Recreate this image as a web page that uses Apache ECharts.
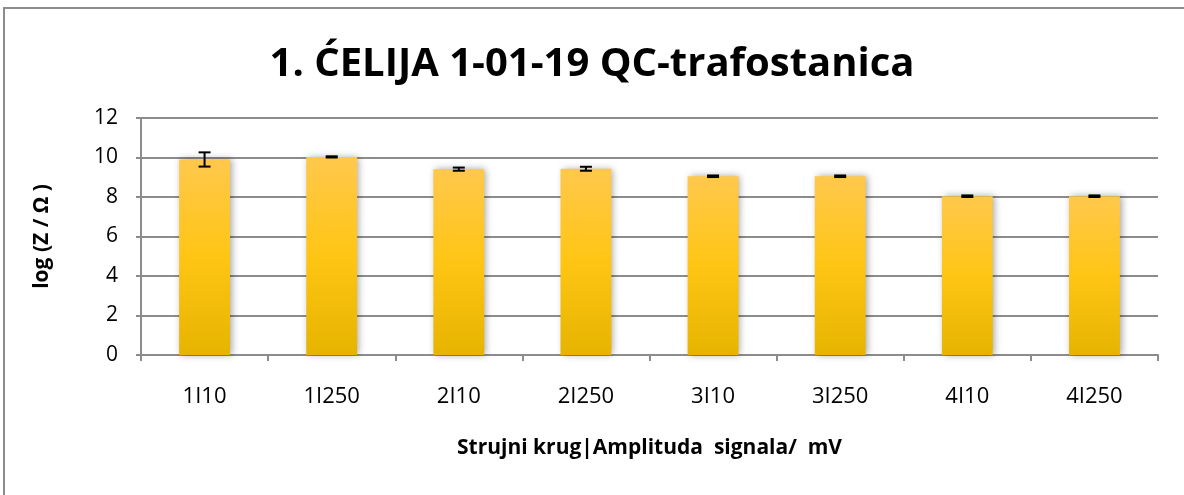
<!DOCTYPE html>
<html>
<head>
<meta charset="utf-8">
<style>
  html, body { margin: 0; padding: 0; background: #ffffff; }
  #chart { width: 1184px; height: 495px; }
</style>
<script src="https://cdn.jsdelivr.net/npm/echarts@6/dist/echarts.min.js"></script>
</head>
<body>
<div id="chart"></div>
<script>
// Measurement points: current circuit | signal amplitude (mV)
const categories = ['1I10', '1I250', '2I10', '2I250', '3I10', '3I250', '4I10', '4I250'];
// Mean log(Z / Ω) per point
const logZ = [9.9, 10.03, 9.41, 9.43, 9.05, 9.05, 8.04, 8.04];
// Error (± half-range) per point
const logZErr = [0.36, 0.03, 0.08, 0.1, 0.04, 0.04, 0.04, 0.04];
const yTicks = [0, 2, 4, 6, 8, 10, 12];

const titleText = '1. ĆELIJA 1-01-19 QC-trafostanica';
const yName = 'log (Z / Ω )';
const xName = 'Strujni krug|Amplituda  signala/  mV';

const chart = echarts.init(document.getElementById('chart'));
const FONT = 'Open Sans';
const gridColor = '#8c8c8c';
const plotLeft = 141, plotRight = 26;

const errData = logZ.map((v, i) => [i, v - logZErr[i], v + logZErr[i]]);

chart.setOption({
  backgroundColor: '#ffffff',
  animation: false,
  title: {
    text: titleText,
    left: 'center',
    top: 40,
    textStyle: { fontFamily: FONT, fontWeight: 'bold', fontSize: 40, color: '#000' }
  },
  graphic: [{
    type: 'rect',
    shape: { x: 4, y: 8, width: 1300, height: 600 },
    style: { fill: 'none', stroke: '#8c8c8c', lineWidth: 2 },
    silent: true,
    z: 0
  }, {
    // x-axis title, centred under the plot area
    type: 'text',
    x: plotLeft + (1184 - plotLeft - plotRight) / 2,
    y: 448,
    style: {
      text: xName, fontFamily: FONT, fontWeight: 'bold', fontSize: 21, fill: '#000',
      align: 'center', verticalAlign: 'middle'
    }
  }],
  grid: { left: plotLeft, right: plotRight, top: 118, bottom: 140 },
  xAxis: {
    type: 'category',
    data: categories,
    axisLine: { lineStyle: { color: gridColor, width: 2 } },
    axisTick: { show: true, length: 6, lineStyle: { color: gridColor, width: 2 } },
    axisLabel: { fontFamily: FONT, fontSize: 22, color: '#000', margin: 31 }
  },
  yAxis: {
    type: 'value',
    min: yTicks[0],
    max: yTicks[yTicks.length - 1],
    interval: 2,
    name: yName,
    nameLocation: 'middle',
    nameGap: 88,
    nameRotate: 90,
    nameTextStyle: { fontFamily: FONT, fontWeight: 'bold', fontSize: 21, color: '#000' },
    axisLine: { show: true, lineStyle: { color: gridColor, width: 2 } },
    axisTick: { show: true, length: 5, lineStyle: { color: gridColor, width: 2 } },
    splitLine: { lineStyle: { color: gridColor, width: 2 } },
    axisLabel: { fontFamily: FONT, fontSize: 21, color: '#000', margin: 23 }
  },
  series: [{
    type: 'bar',
    data: logZ,
    barWidth: '40%',
    itemStyle: {
      color: new echarts.graphic.LinearGradient(0, 0, 0, 1, [
        { offset: 0, color: '#ffc84c' },
        { offset: 0.5, color: '#ffc514' },
        { offset: 1, color: '#e6b400' }
      ]),
      shadowColor: 'rgba(0,0,0,0.35)',
      shadowBlur: 7,
      shadowOffsetX: 2,
      shadowOffsetY: 0
    },
    z: 2
  }, {
    type: 'custom',
    data: errData,
    z: 5,
    renderItem: function (params, api) {
      const x = api.value(0);
      const lo = api.coord([x, api.value(1)]);
      const hi = api.coord([x, api.value(2)]);
      const half = 6;
      const style = { stroke: '#000', lineWidth: 2 };
      return {
        type: 'group',
        children: [
          { type: 'line', shape: { x1: hi[0], y1: hi[1], x2: lo[0], y2: lo[1] }, style },
          { type: 'line', shape: { x1: hi[0] - half, y1: hi[1], x2: hi[0] + half, y2: hi[1] }, style },
          { type: 'line', shape: { x1: lo[0] - half, y1: lo[1], x2: lo[0] + half, y2: lo[1] }, style }
        ]
      };
    }
  }]
});
</script>
</body>
</html>
